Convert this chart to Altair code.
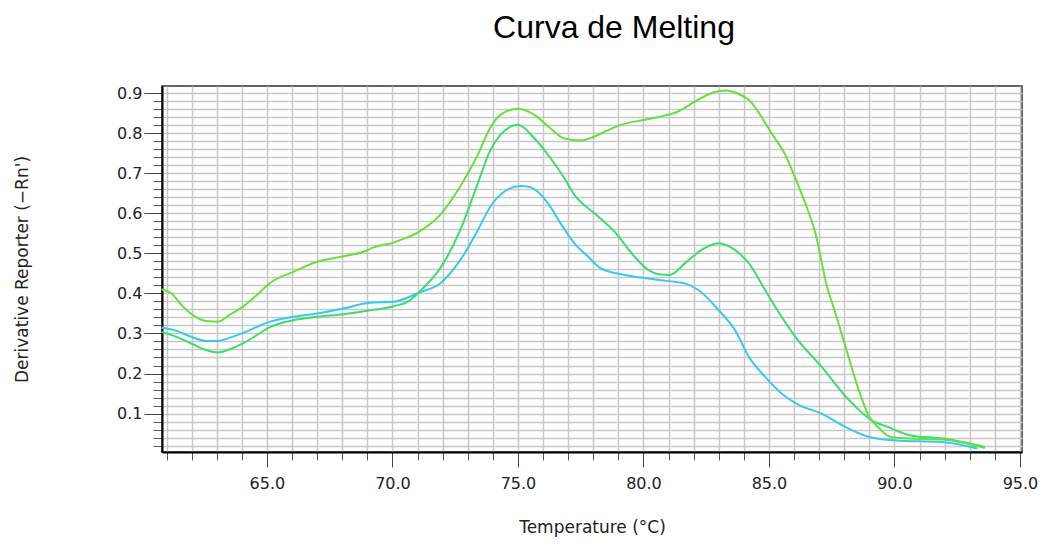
import altair as alt
import pandas as pd

# ---- data ----
temp_lime = [60.8, 61.2, 61.65, 62.05, 62.6, 63.05, 63.5, 64.05, 64.6, 65.1, 66.05, 67.0, 68.05, 68.85,
             69.25, 70.05, 70.3, 71.0, 71.9, 72.7, 73.4, 73.85, 74.3, 75.0, 75.65, 76.3, 76.85, 77.5,
             78.05, 78.6, 79.1, 80.0, 80.7, 81.1, 81.4, 82.05, 82.7, 83.25, 83.8, 84.2, 85.1, 85.65,
             86.05, 86.45, 86.85, 87.3, 87.65, 88.05, 88.45, 89.0, 89.4, 89.85, 90.6, 91.9, 92.6, 93.6]
val_lime = [0.41, 0.40, 0.367, 0.346, 0.331, 0.329, 0.346, 0.367, 0.396, 0.425, 0.454, 0.479, 0.493, 0.504,
            0.515, 0.527, 0.533, 0.552, 0.596, 0.667, 0.746, 0.808, 0.846, 0.861, 0.846, 0.812, 0.787, 0.782,
            0.792, 0.808, 0.821, 0.833, 0.842, 0.848, 0.855, 0.879, 0.90, 0.907, 0.898, 0.883, 0.80, 0.746,
            0.6875, 0.625, 0.55, 0.42, 0.35, 0.267, 0.183, 0.0915, 0.0625, 0.0415, 0.0375, 0.035, 0.029, 0.014]

temp_green = [60.8, 61.4, 62.05, 62.6, 63.05, 63.5, 64.05, 64.6, 65.1, 66.05, 67.0, 68.05, 69.0, 70.05,
              70.6, 71.1, 71.9, 72.7, 73.4, 73.9, 74.3, 75.0, 75.65, 76.3, 76.85, 77.25, 78.05, 78.85,
              79.65, 80.2, 80.6, 81.05, 81.65, 82.3, 83.0, 83.65, 84.2, 84.85, 85.25, 86.05, 87.1, 88.2,
              89.1, 89.8, 90.6, 91.9, 92.7, 93.6]
val_green = [0.304, 0.2915, 0.273, 0.258, 0.2525, 0.26, 0.275, 0.296, 0.315, 0.333, 0.3415, 0.348, 0.3565, 0.368,
             0.379, 0.406, 0.4625, 0.558, 0.675, 0.758, 0.796, 0.821, 0.7875, 0.7375, 0.6875, 0.646, 0.60, 0.554,
             0.4915, 0.458, 0.448, 0.446, 0.475, 0.508, 0.525, 0.508, 0.475, 0.408, 0.3665, 0.2915, 0.2165, 0.133,
             0.083, 0.065, 0.046, 0.0375, 0.029, 0.0165]

temp_cyan = [60.8, 61.4, 62.05, 62.6, 63.05, 63.5, 64.05, 64.6, 65.1, 66.05, 67.0, 68.05, 69.1, 70.05,
             70.3, 71.1, 71.9, 72.7, 73.4, 73.9, 74.45, 75.1, 75.5, 76.2, 76.7, 77.25, 77.8, 78.3,
             79.1, 79.9, 80.7, 81.25, 81.65, 82.2, 83.0, 83.65, 84.2, 84.85, 85.5, 86.2, 87.1, 88.05,
             89.0, 90.05, 91.9, 93.3]
val_cyan = [0.315, 0.3065, 0.29, 0.281, 0.2815, 0.289, 0.3015, 0.3165, 0.329, 0.3415, 0.35, 0.3625, 0.3765, 0.379,
            0.383, 0.403, 0.425, 0.483, 0.558, 0.6165, 0.654, 0.668, 0.665, 0.625, 0.575, 0.525, 0.4915, 0.4625,
            0.448, 0.44, 0.433, 0.429, 0.425, 0.408, 0.358, 0.308, 0.2415, 0.1915, 0.15, 0.121, 0.10, 0.0665,
            0.0415, 0.033, 0.029, 0.0125]

x_major_ticks = [65, 70, 75, 80, 85, 90, 95]
x_minor_ticks = list(range(61, 96))
y_major_ticks = [0.1, 0.2, 0.3, 0.4, 0.5, 0.6, 0.7, 0.8, 0.9]
y_minor_ticks = [round(0.02 * i, 2) for i in range(1, 46)]

series_names = ["cyan", "green", "lime"]
series_colors = ["#38c9ef", "#3ade6e", "#66e03a"]


def frame(name, ts, vs):
    return pd.DataFrame({"series": name, "temperature": ts, "value": vs})


df_cyan = frame("cyan", temp_cyan, val_cyan)
df_green = frame("green", temp_green, val_green)
df_lime = frame("lime", temp_lime, val_lime)
df_all = pd.concat([df_cyan, df_green, df_lime], ignore_index=True)

xscale = alt.Scale(domain=[60.82, 95.08], nice=False, zero=False)
yscale = alt.Scale(domain=[0.004, 0.918], nice=False, zero=False)
cscale = alt.Scale(domain=series_names, range=series_colors)

# invisible layer that carries the dense grid and the minor ticks
grid_layer = alt.Chart(df_all).mark_line(opacity=0).encode(
    x=alt.X("temperature:Q", scale=xscale, axis=alt.Axis(
        values=x_minor_ticks, grid=True, gridColor="#c8c8c8", gridWidth=1.5,
        labels=False, ticks=True, tickSize=8, tickColor="#555555", tickWidth=1,
        domain=False, title=None, orient="bottom")),
    y=alt.Y("value:Q", scale=yscale, axis=alt.Axis(
        values=y_minor_ticks, grid=True, gridColor="#c8c8c8", gridWidth=1.5,
        labels=False, ticks=True, tickSize=9, tickColor="#555555", tickWidth=1,
        domain=False, title=None, orient="left")),
    detail="series:N",
)

main_x_axis = alt.Axis(
    values=x_major_ticks, format=".1f", grid=False, orient="bottom",
    tickSize=15, tickColor="#444444", tickWidth=1,
    labelFont="DejaVu Sans", labelFontSize=16, labelColor="#222222", labelPadding=8,
    domainColor="#000000", domainWidth=2,
    title="Temperature (°C)", titleFont="DejaVu Sans", titleFontSize=17,
    titleFontWeight="normal", titleColor="#222222", titlePadding=28,
)
main_y_axis = alt.Axis(
    values=y_major_ticks, format=".1f", grid=False, orient="left",
    tickSize=18, tickColor="#444444", tickWidth=1,
    labelFont="DejaVu Sans", labelFontSize=16, labelColor="#222222", labelPadding=2,
    domainColor="#000000", domainWidth=2,
    title="Derivative Reporter (−Rn')", titleFont="DejaVu Sans", titleFontSize=17,
    titleFontWeight="normal", titleColor="#222222", titleX=-140, titleBaseline="middle",
)


def series_layer(df, with_axes=False):
    return alt.Chart(df).mark_line(strokeWidth=2, interpolate="monotone").encode(
        x=alt.X("temperature:Q", scale=xscale, axis=main_x_axis if with_axes else None),
        y=alt.Y("value:Q", scale=yscale, axis=main_y_axis if with_axes else None),
        color=alt.Color("series:N", scale=cscale, legend=None),
    )


chart = alt.layer(
    grid_layer,
    series_layer(df_cyan, with_axes=True),
    series_layer(df_green),
    series_layer(df_lime),
).resolve_axis(x="independent", y="independent").properties(
    width=860,
    height=366,
    autosize=alt.AutoSizeParams(type="none"),
    padding={"left": 162, "top": 86, "right": 21, "bottom": 100},
    background="white",
    title=alt.TitleParams(
        "Curva de Melting", font="Liberation Sans", fontSize=32, fontWeight="normal",
        color="#000000", anchor="middle", dx=22, offset=40,
    ),
).configure_view(stroke="#333333", strokeWidth=1.5)

chart.save("out.html", embed_options={"renderer": "svg", "actions": False})
